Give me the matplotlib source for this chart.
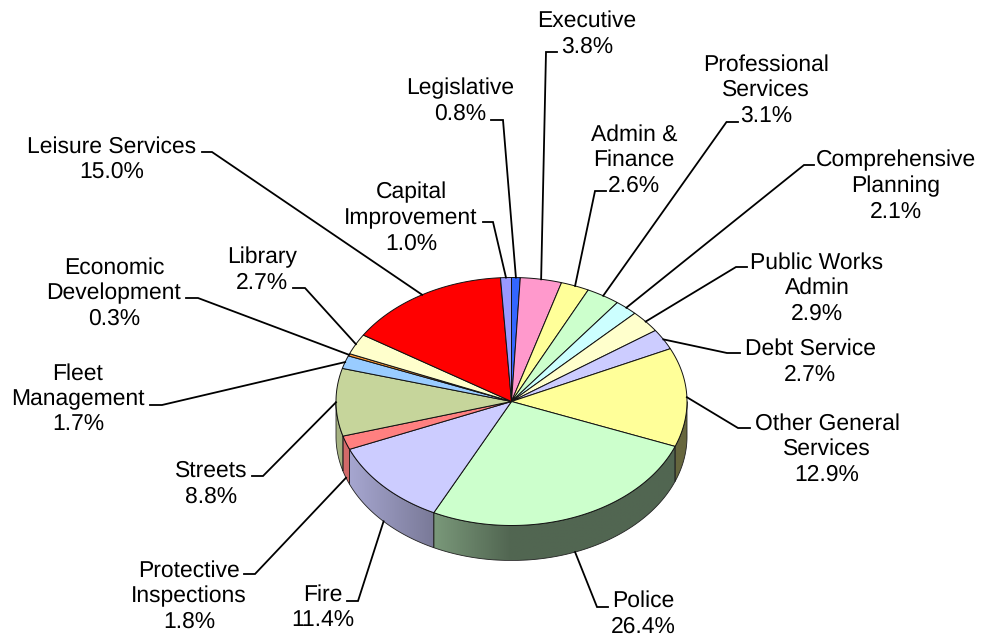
#!/usr/bin/env python3

# Budget share by department, drawn as a tilted pie with a shaded rim and
# leader lines out to each label.

import matplotlib
matplotlib.use("Agg")

import matplotlib.pyplot as plt
import numpy as np
from matplotlib.colors import to_rgb
from matplotlib.patches import Polygon

WIDTH, HEIGHT = 981, 636
CX, CY = 511.5, 401.5     # centre of the top face
RX, RY = 175.5, 124.0     # radii of the top face
DEPTH = 35.0              # height of the rim

categories = ["Legislative", "Executive", "Admin &\nFinance", "Professional\nServices",
              "Comprehensive\nPlanning", "Public Works\nAdmin", "Debt Service",
              "Other General\nServices", "Police", "Fire", "Protective\nInspections",
              "Streets", "Fleet\nManagement", "Economic\nDevelopment", "Library",
              "Leisure Services", "Capital\nImprovement"]
values = [0.8, 3.8, 2.6, 3.1, 2.1, 2.9, 2.7, 12.9, 26.4, 11.4, 1.8, 8.8, 1.7, 0.3, 2.7, 15.0, 1.0]
colors = ["#3366FF", "#FF99CC", "#FFFF99", "#CCFFCC", "#CCFFFF", "#FFFFCC", "#CCCCFF",
          "#FFFF99", "#CCFFCC", "#CCCCFF", "#FF8080", "#C6D59B", "#99CCFF", "#FF9933",
          "#FFFFCC", "#FF0000", "#9999FF"]

# label block centres
label_x = [460, 587, 634, 766, 896, 817, 810, 827, 643, 323, 189, 211, 78, 114, 262, 112, 411]
label_y = [101.5, 34, 160, 90, 186, 288, 362, 449, 614, 608, 596, 484, 399, 293, 270, 159.5, 218]

# where each leader leaves its label: tip next to the text, then the knee
tip_x = [491, 557, 606, 738, 814, 747, 740, 750, 608, 347, 244, 252, 150, 186, 293, 202, 483]
knee_x = [503, 546, 595, 726.5, 804, 736, 727, 738, 597, 358, 255, 263, 162, 198, 305, 212, 493]
knee_y = [120, 52, 191, 122, 165, 267, 353, 428, 607, 601, 574, 476, 405, 298, 288, 152, 222]

# brightness of the rim across its width, lit from the left
shade_x = [336, 510, 690]
shade_k = [0.85, 0.40, 0.40]


# clockwise degrees from 12 o'clock to a point on the top face
def rim_point(angle, drop=0.0):
    t = np.radians(angle)
    return CX + RX * np.sin(t), CY - RY * np.cos(t) + drop


def draw_side(ax, start, end, color):
    lo, hi = max(start, 90), min(end, 270)
    if lo >= hi:
        return
    xs, ys = rim_point(np.linspace(lo, hi, 80))
    outline = np.vstack([np.column_stack([xs, ys]),
                         np.column_stack([xs[::-1], ys[::-1] + DEPTH])])

    # horizontal gradient, kept inside the rim outline
    px = np.arange(np.floor(xs.min()), np.ceil(xs.max()) + 1)
    shade = np.interp(px, shade_x, shade_k)
    img = np.outer(shade, to_rgb(color)).reshape(1, len(px), 3)
    im = ax.imshow(img, extent=(px[0], px[-1], ys.max() + DEPTH, ys.min()),
                   aspect="auto", interpolation="bilinear", zorder=2)
    edge = Polygon(outline, closed=True, facecolor="none", edgecolor="#222222",
                   linewidth=0.6, zorder=3)
    ax.add_patch(edge)
    im.set_clip_path(edge)


def draw_top(ax, start, end, color):
    xs, ys = rim_point(np.linspace(start, end, 80))
    pts = np.vstack([[CX, CY], np.column_stack([xs, ys])])
    ax.add_patch(Polygon(pts, closed=True, facecolor=color, edgecolor="#111111",
                         linewidth=0.7, zorder=4))


def main():
    plt.rcParams["font.family"] = ["Liberation Sans", "DejaVu Sans"]
    plt.rcParams["text.hinting"] = "none"
    fig = plt.figure(figsize=(WIDTH / 100, HEIGHT / 100), dpi=100)
    ax = fig.add_axes([0, 0, 1, 1])

    bounds = np.cumsum([0.0] + values) / sum(values) * 360.0

    for i, color in enumerate(colors):
        draw_side(ax, bounds[i], bounds[i + 1], color)
    for i, color in enumerate(colors):
        draw_top(ax, bounds[i], bounds[i + 1], color)

    for i, name in enumerate(categories):
        mid = (bounds[i] + bounds[i + 1]) / 2
        # front slices have the leader attached at the bottom of the rim
        drop = DEPTH if np.cos(np.radians(mid)) < -0.1 else 0.0
        sx, sy = rim_point(mid, drop)
        ax.plot([sx, knee_x[i], tip_x[i]], [sy, knee_y[i], knee_y[i]],
                color="black", linewidth=1.3, solid_joinstyle="miter", zorder=5)
        ax.text(label_x[i], label_y[i], f"{name}\n{values[i]:.1f}%", ha="center",
                va="center", ma="center", fontsize=16.5, linespacing=1.25,
                color="black", zorder=6)

    ax.set_xlim(0, WIDTH)
    ax.set_ylim(HEIGHT, 0)
    ax.axis("off")
    fig.savefig("out.png", dpi=100, facecolor="white")
    plt.close(fig)


if __name__ == "__main__":
    main()
